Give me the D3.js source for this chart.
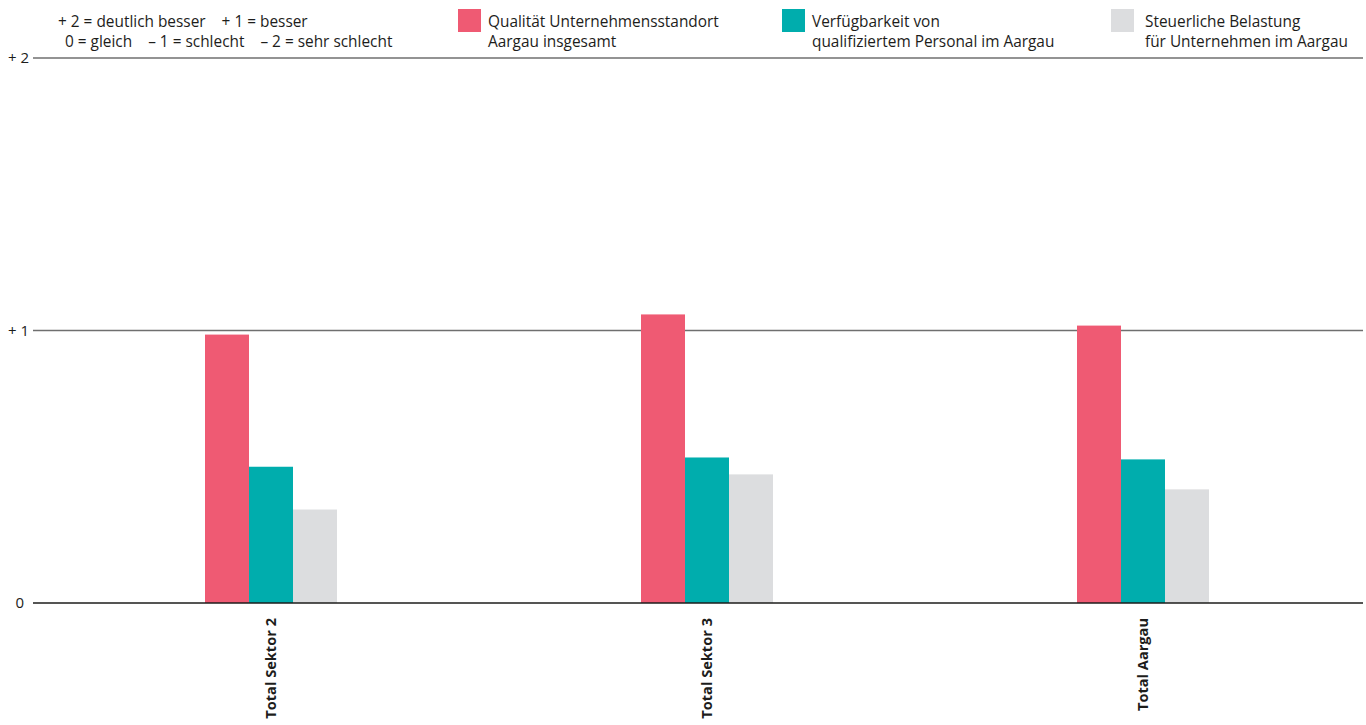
<!DOCTYPE html>
<html>
<head>
<meta charset="utf-8">
<script src="https://cdn.jsdelivr.net/npm/d3@7/dist/d3.min.js"></script>
<style>
  html, body { margin: 0; padding: 0; background: #fff; }
  svg { display: block; font-family: "Open Sans", "Noto Sans", sans-serif; }
</style>
</head>
<body>
<svg id="chart" width="1366" height="725"></svg>
<script>
// Categories along the x axis
const categories = ["Total Sektor 2", "Total Sektor 3", "Total Aargau"];

// Series names (legend lines) and colours
const seriesNames = [
  ["Qualität Unternehmensstandort", "Aargau insgesamt"],
  ["Verfügbarkeit von", "qualifiziertem Personal im Aargau"],
  ["Steuerliche Belastung", "für Unternehmen im Aargau"]
];
const seriesColors = ["#ef5a73", "#00adad", "#dcdddf"];

// Mean ratings per category, one array per series
const qualitaet   = [0.985, 1.059, 1.018];
const personal    = [0.500, 0.534, 0.527];
const steuern     = [0.343, 0.472, 0.417];
const seriesValues = [qualitaet, personal, steuern];

// Y tick values and labels
const yTicks = [0, 1, 2];
const yTickLabels = ["0", "+ 1", "+ 2"];

// Scale explanation text
const scaleNote = [
  "+ 2 = deutlich besser    + 1 = besser",
  "0 = gleich    – 1 = schlecht    – 2 = sehr schlecht"
];

const svg = d3.select("#chart");
const textColor = "#1d1d1b";
const fs = 15.4;

const y = d3.scaleLinear().domain([0, 2]).range([603, 58]);
const x0 = d3.scaleBand().domain(categories).range([53, 1361]).paddingInner(0).paddingOuter(0);
const groupWidth = 132;
const x1 = d3.scaleBand().domain(d3.range(seriesValues.length)).range([0, groupWidth]).padding(0);

const gridLeft = 33, gridRight = 1363;

// Gridlines at +1 and +2
svg.append("g").selectAll("line")
  .data(yTicks.filter(d => d !== 0))
  .join("line")
  .attr("x1", gridLeft).attr("x2", gridRight)
  .attr("y1", d => y(d)).attr("y2", d => y(d))
  .attr("stroke", "#6f6f6f").attr("stroke-width", 1.3);

// Y tick labels
svg.append("g").selectAll("text")
  .data(yTicks)
  .join("text")
  .attr("x", d => d === 0 ? 24 : 29)
  .attr("y", d => y(d))
  .attr("dy", "0.35em")
  .attr("text-anchor", "end")
  .attr("font-size", 15)
  .attr("fill", textColor)
  .text((d, i) => yTickLabels[i]);

// Bars
const groups = svg.append("g").selectAll("g")
  .data(categories)
  .join("g")
  .attr("transform", d => `translate(${x0(d) + (x0.bandwidth() - groupWidth) / 2},0)`);

groups.selectAll("rect")
  .data((d, ci) => seriesValues.map((vals, si) => ({ si, v: vals[ci] })))
  .join("rect")
  .attr("x", d => x1(d.si))
  .attr("width", x1.bandwidth())
  .attr("y", d => y(d.v))
  .attr("height", d => y(0) - y(d.v))
  .attr("fill", d => seriesColors[d.si]);

// Zero baseline
svg.append("line")
  .attr("x1", gridLeft).attr("x2", gridRight)
  .attr("y1", y(0)).attr("y2", y(0))
  .attr("stroke", "#1d1d1b").attr("stroke-width", 1.3);

// Rotated category labels
svg.append("g").selectAll("text")
  .data(categories)
  .join("text")
  .attr("transform", d => `translate(${x0(d) + x0.bandwidth() / 2 + 5},618) rotate(-90)`)
  .attr("text-anchor", "end")
  .attr("font-size", 14.6)
  .attr("font-weight", 700)
  .attr("fill", textColor)
  .text(d => d);

// Scale note (top left)
const note = svg.append("text")
  .attr("font-size", fs)
  .attr("fill", textColor)
  .attr("xml:space", "preserve")
  .style("white-space", "pre");
note.append("tspan").attr("x", 58).attr("y", 27).text(scaleNote[0]);
note.append("tspan").attr("x", 65).attr("y", 47).text(scaleNote[1]);

// Legend
const legendX = [458, 782, 1111];
const legend = svg.append("g").selectAll("g")
  .data(seriesNames)
  .join("g")
  .attr("transform", (d, i) => `translate(${legendX[i]},9)`);
legend.append("rect")
  .attr("width", 23).attr("height", 23)
  .attr("fill", (d, i) => seriesColors[i]);
legend.append("text")
  .attr("font-size", fs)
  .attr("fill", textColor)
  .selectAll("tspan")
  .data(d => d)
  .join("tspan")
  .attr("x", 30)
  .attr("y", (d, i) => 18 + i * 20)
  .text(d => d);
legend.filter((d, i) => i === 2).select("text").selectAll("tspan").attr("x", 34);
</script>
</body>
</html>
